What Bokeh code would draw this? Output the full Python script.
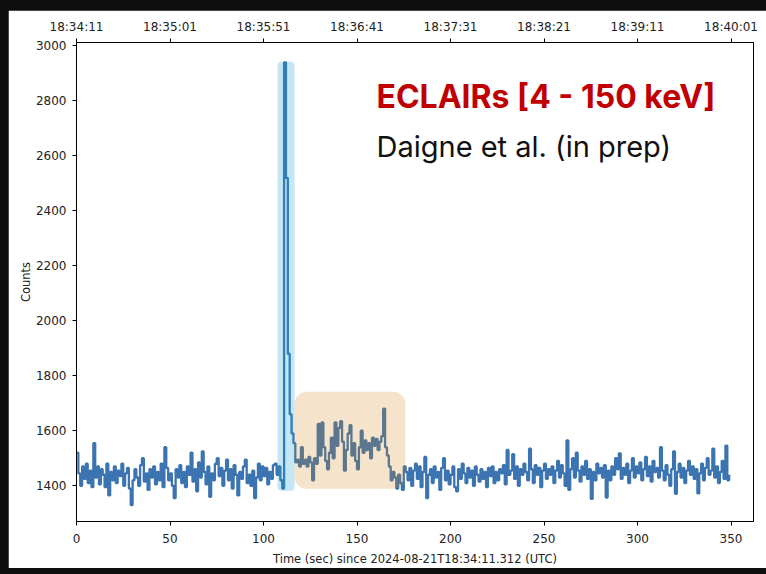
from bokeh.plotting import figure
from bokeh.models import LinearAxis, FixedTicker, BoxAnnotation, Label, Range1d
from bokeh.layouts import column
from bokeh.embed import file_html
from bokeh.resources import INLINE

# ---- data (1 s bins) ----
time_s = list(range(350))
counts = [
    1520, 1445, 1400, 1470, 1425, 1480, 1410, 1455, 1395, 1555,
    1430, 1470, 1405, 1460, 1440, 1395, 1480, 1365, 1450, 1420,
    1470, 1410, 1455, 1435, 1480, 1400, 1445, 1465, 1390, 1330,
    1420, 1460, 1430, 1400, 1475, 1500, 1415, 1445, 1385, 1460,
    1430, 1470, 1405, 1450, 1420, 1480, 1395, 1540, 1465, 1420,
    1445, 1400, 1355, 1460, 1430, 1475, 1410, 1450, 1395, 1470,
    1440, 1520, 1415, 1460, 1380, 1485, 1430, 1525, 1450, 1405,
    1470, 1360, 1445, 1420, 1480, 1500, 1435, 1465, 1400, 1455,
    1495, 1420, 1460, 1390, 1475, 1440, 1365, 1450, 1425, 1470,
    1495, 1410, 1440, 1400, 1455, 1355, 1430, 1480, 1420, 1470,
    1435, 1465, 1405, 1450, 1425, 1475, 1480, 1440, 1470, 1420,
    1390, 2940, 2520, 1880, 1660, 1590, 1555, 1485, 1495, 1470,
    1540, 1480, 1495, 1470, 1505, 1485, 1420, 1500, 1480, 1625,
    1510, 1630, 1540, 1490, 1460, 1520, 1575, 1500, 1630, 1545,
    1610, 1635, 1560, 1455, 1530, 1590, 1620, 1510, 1555, 1490,
    1460, 1540, 1600, 1520, 1565, 1530, 1555, 1500, 1575, 1545,
    1570, 1530, 1560, 1580, 1680, 1540, 1510, 1470, 1420, 1450,
    1430, 1390, 1440, 1410, 1385, 1470, 1450, 1420, 1465, 1400,
    1455, 1480, 1425, 1470, 1395, 1450, 1505, 1355, 1440, 1460,
    1410, 1470, 1430, 1450, 1385, 1465, 1500, 1420, 1455, 1405,
    1440, 1470, 1395, 1380, 1460, 1425, 1480, 1445, 1410, 1465,
    1430, 1455, 1400, 1470, 1440, 1415, 1460, 1425, 1450, 1395,
    1465, 1435, 1470, 1410, 1450, 1420, 1460, 1445, 1475, 1405,
    1530, 1440, 1455, 1515, 1425, 1470, 1400, 1460, 1440, 1480,
    1450, 1420, 1535, 1460, 1410, 1475, 1440, 1465, 1395, 1455,
    1480, 1425, 1460, 1440, 1470, 1410, 1455, 1490, 1430, 1475,
    1445, 1400, 1565, 1385, 1460, 1500, 1430, 1520, 1455, 1415,
    1470, 1440, 1490, 1425, 1460, 1352, 1450, 1420, 1480, 1445,
    1465, 1430, 1475, 1357, 1455, 1420, 1470, 1440, 1500, 1460,
    1518, 1425, 1465, 1440, 1480, 1410, 1455, 1500, 1430, 1470,
    1445, 1485, 1420, 1460, 1505, 1435, 1470, 1415, 1490, 1450,
    1465, 1430, 1540, 1455, 1420, 1475, 1440, 1400, 1460, 1525,
    1371, 1450, 1480, 1430, 1465, 1410, 1455, 1490, 1440, 1470,
    1425, 1460, 1372, 1445, 1480, 1420, 1465, 1500, 1440, 1455,
    1535, 1430, 1470, 1410, 1450, 1490, 1425, 1546, 1420, 1440,
]

x_ticks = [0, 50, 100, 150, 200, 250, 300, 350]
y_ticks = [1400, 1600, 1800, 2000, 2200, 2400, 2600, 2800, 3000]
top_tick_labels = ["18:34:11", "18:35:01", "18:35:51", "18:36:41",
                   "18:37:31", "18:38:21", "18:39:11", "18:40:01"]

x_label = "Time (sec) since 2024-08-21T18:34:11.312 (UTC)"
y_label = "Counts"
title_text = "ECLAIRs [4 - 150 keV]"
credit_text = "Daigne et al. (in prep)"

# highlighted regions (data units)
spike_box = dict(left=107.5, right=116.6, bottom=1382, top=2942)
ext_box = dict(left=116.6, right=175.8, bottom=1389, top=1742)

TICK_FONT = "12px"
LABEL_FONT = "11.5px"

p = figure(width=758, height=558,
           x_range=Range1d(0, 362), y_range=Range1d(1270, 3012),
           output_backend="svg", toolbar_location=None,
           min_border_left=68, min_border_right=13,
           min_border_top=32, min_border_bottom=47)
p.margin = (10, 0, 6, 8)
p.background_fill_color = "white"
p.border_fill_color = "white"
p.outline_line_color = "black"
p.outline_line_width = 1
p.grid.visible = False

p.step(time_s, counts, mode="after", line_color="#3b74b0", line_width=2.3)

p.add_layout(BoxAnnotation(**spike_box, fill_color="#179bcf", fill_alpha=0.25,
                           line_alpha=0, border_radius=4))
p.add_layout(BoxAnnotation(**ext_box, fill_color="#d28413", fill_alpha=0.22,
                           line_alpha=0, border_radius=12))

for ax in (p.xaxis[0], p.yaxis[0]):
    ax.axis_line_color = "black"
    ax.major_tick_line_color = "black"
    ax.minor_tick_line_color = None
    ax.major_tick_in = 0
    ax.major_tick_out = 4
    ax.major_label_text_font = "DejaVu Sans"
    ax.major_label_text_font_size = TICK_FONT
    ax.major_label_text_color = "#222222"
    ax.axis_label_text_font = "DejaVu Sans"
    ax.axis_label_text_font_size = LABEL_FONT
    ax.axis_label_text_font_style = "normal"
    ax.axis_label_text_color = "#222222"

p.xaxis[0].ticker = FixedTicker(ticks=x_ticks)
p.xaxis[0].axis_label = x_label
p.xaxis[0].major_label_standoff = 8
p.xaxis[0].axis_label_standoff = 6
p.yaxis[0].ticker = FixedTicker(ticks=y_ticks)
p.yaxis[0].axis_label = y_label
p.yaxis[0].major_label_standoff = 6
p.yaxis[0].axis_label_standoff = 0

top = LinearAxis(ticker=FixedTicker(ticks=x_ticks),
                 major_label_overrides={t: s for t, s in zip(x_ticks, top_tick_labels)})
top.axis_line_color = "black"
top.major_tick_line_color = "black"
top.minor_tick_line_color = None
top.major_tick_in = 0
top.major_tick_out = 4
top.major_label_standoff = 5
top.major_label_text_font = "DejaVu Sans"
top.major_label_text_font_size = TICK_FONT
top.major_label_text_color = "#222222"
p.add_layout(top, "above")

p.add_layout(Label(x=160.4, y=2814, text=title_text, text_font="Inter",
                   text_font_style="bold", text_font_size="32px",
                   text_color="#c00000", text_baseline="alphabetic"))
p.add_layout(Label(x=160.4, y=2632, text=credit_text, text_font="Inter",
                   text_font_size="29px", text_color="#111111",
                   text_baseline="alphabetic"))

root = column(p, width=766, height=574,
              styles={"background-color": "#0e0e0e"})

open("out.html", "w").write(file_html(root, INLINE))
